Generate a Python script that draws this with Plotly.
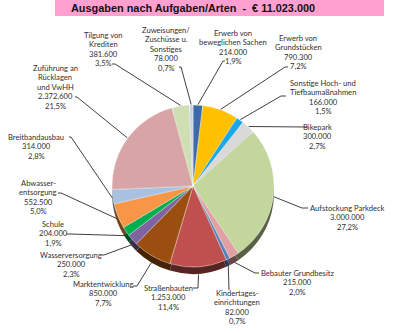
import math
import plotly.graph_objects as go

# Budget items, clockwise from 12 o'clock
categories = [
    "Erwerb von beweglichen Sachen", "Erwerb von Grundstücken",
    "Sonstige Hoch- und Tiefbaumaßnahmen", "Bikepark", "Aufstockung Parkdeck",
    "Bebauter Grundbesitz", "Kindertageseinrichtungen", "Straßenbauten",
    "Marktentwicklung", "Wasserversorgung", "Schule", "Abwasserentsorgung",
    "Breitbandausbau", "Zuführung an Rücklagen und VwHH", "Tilgung von Krediten",
    "Zuweisungen/Zuschüsse u. Sonstiges",
]
values = [214000, 790300, 166000, 300000, 3000000, 215000, 82000, 1253000,
          850000, 250000, 204000, 552500, 314000, 2372600, 381600, 78000]
# Wrapped category names as they appear in the labels
label_names = [
    ["Erwerb von", "beweglichen Sachen"], ["Erwerb von", "Grundstücken"],
    ["Sonstige Hoch- und", "Tiefbaumaßnahmen"], ["Bikepark"], ["Aufstockung Parkdeck"],
    ["Bebauter Grundbesitz"], ["Kindertages-", "einrichtungen"], ["Straßenbauten"],
    ["Marktentwicklung"], ["Wasserversorgung"], ["Schule"], ["Abwasser-", "entsorgung"],
    ["Breitbandausbau"], ["Zuführung an", "Rücklagen", "und VwHH"], ["Tilgung von", "Krediten"],
    ["Zuweisungen/", "Zuschüsse u.", "Sonstiges"],
]
colors = ["#3D6AA8", "#FFC000", "#1BA8E8", "#D9D9D9", "#C3D69B", "#E3A0A4",
          "#4F81BD", "#C0504D", "#9A4F10", "#8064A2", "#00B050", "#F79646",
          "#A9C1E1", "#D8A5A6", "#CFDFB3", "#C6D3E6"]

W, H = 400, 333
CX, CY, R, DEPTH = 193, 186, 81, 7

# Label layout: text centre x, first line y, leader end (x, y), end of short horizontal tick
label_layout = [
    (233, 33, (223, 61), 225), (298, 38, (285, 67), 288), (323, 83, (281, 96), 286),
    (317, 127, (306, 127), 308), (347, 208, (302, 208), 308), (297, 273, (255, 273), 259),
    (237, 293, (229, 290), 229), (168, 288, (198, 288), 193), (103, 284, (137, 286), 133),
    (71, 255, (104, 255), 101), (53, 224, (70, 234), 66), (38, 183, (61, 193), 58),
    (36, 137, (71, 137), 69), (55, 68, (77, 97), 75), (103, 35, (115, 64), 112),
    (166, 30, (181, 67), 179),
]
LINE_STEP = 9.4


def px(x):
    return x / W


def py(y):
    return 1 - y / H


def darken(hex_color, f=0.45):
    h = hex_color.lstrip("#")
    r, g, b = (int(h[i:i + 2], 16) for i in (0, 2, 4))
    return "#%02x%02x%02x" % (int(r * f), int(g * f), int(b * f))


def fmt_de(v):
    return f"{v:,}".replace(",", ".")


total = sum(values)

fig = go.Figure()
# Darker copy shifted down gives the tilted-pie rim
fig.add_trace(go.Pie(
    labels=categories, values=values, sort=False, direction="clockwise", rotation=0,
    marker=dict(colors=[darken(c) for c in colors], line=dict(width=0)),
    textinfo="none", hoverinfo="skip", showlegend=False,
    domain=dict(x=[px(CX - R), px(CX + R)], y=[py(CY + R + DEPTH), py(CY - R + DEPTH)]),
))
fig.add_trace(go.Pie(
    labels=categories, values=values, sort=False, direction="clockwise", rotation=0,
    marker=dict(colors=colors, line=dict(width=0.6, color="rgba(255,255,255,0.7)")),
    textinfo="none", showlegend=False,
    domain=dict(x=[px(CX - R), px(CX + R)], y=[py(CY + R), py(CY - R)]),
))

shapes = [dict(type="rect", xref="paper", yref="paper", x0=px(55), x1=px(384),
               y0=py(16), y1=py(0), fillcolor="#FFA0D0", line=dict(width=0), layer="below")]
annotations = [dict(x=px(193), y=py(8), xref="paper", yref="paper", showarrow=False,
                    text=f"<b>Ausgaben nach Aufgaben/Arten  -  € {fmt_de(total)}</b>",
                    font=dict(family="Liberation Sans, Arial", size=10.9, color="#111111"),
                    xanchor="center", yanchor="middle")]

cum = 0
for name_lines, v, (lx, ly, (ex, ey), hx) in zip(label_names, values, label_layout):
    mid = (cum + v / 2) / total * 2 * math.pi
    cum += v
    sx = CX + (R + 0.5) * math.sin(mid)
    sy = CY - (R + 0.5) * math.cos(mid) + DEPTH * max(0.0, -math.cos(mid))
    path = f"M{px(sx)},{py(sy)} L{px(ex)},{py(ey)} L{px(hx)},{py(ey)}"
    shapes.append(dict(type="path", xref="paper", yref="paper", path=path,
                       line=dict(color="#404040", width=1), layer="above"))
    pct = f"{v / total * 100:.1f}".replace(".", ",") + "%"
    lines = name_lines + [fmt_de(v), pct]
    for k, t in enumerate(lines):
        annotations.append(dict(x=px(lx), y=py(ly + k * LINE_STEP), xref="paper", yref="paper",
                                text=t, showarrow=False, xanchor="center", yanchor="middle",
                                font=dict(family="Lato, Open Sans, sans-serif", size=7.6,
                                          color="#303030")))

fig.update_layout(
    width=W, height=H, autosize=False, margin=dict(l=0, r=0, t=0, b=0),
    paper_bgcolor="white", plot_bgcolor="white",
    shapes=shapes, annotations=annotations, showlegend=False,
)

fig.write_html("out.html")
